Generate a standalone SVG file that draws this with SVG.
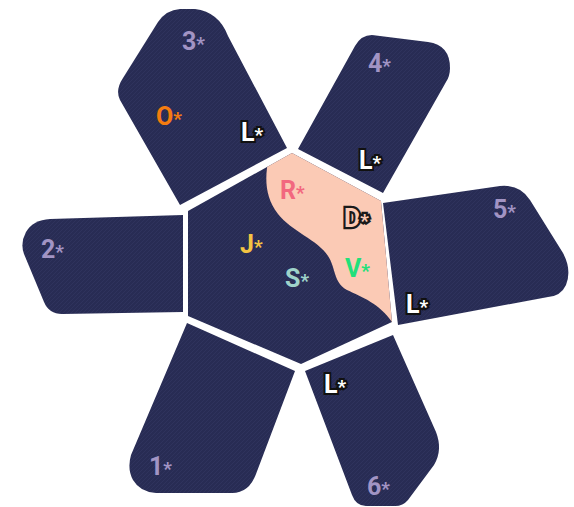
<svg xmlns="http://www.w3.org/2000/svg" width="574" height="507" viewBox="0 0 574 507">
  <defs>
    <!-- woven fabric look for the dark panels -->
    <pattern id="weave" width="4" height="4" patternUnits="userSpaceOnUse">
      <rect width="4" height="4" fill="#282c54"/>
      <path d="M0,4 L4,0 M-1,1 L1,-1 M3,5 L5,3" stroke="#30345e" stroke-width="0.9"/>
    </pattern>
    <clipPath id="hexClip">
      <polygon points="292,153 381,201 392,322 301,364 188,316 188,211"/>
    </clipPath>
  </defs>
  <style>
    .panel { fill: url(#weave); }
    .lbl { font-family: Roboto, "Liberation Sans", sans-serif; font-weight: 700; font-size: 25px; }
    .st { font-size: 19px; }
    .num { fill: #a294c4; }
    .tag { fill: #ffffff; stroke: #111111; stroke-width: 4; paint-order: stroke; stroke-linejoin: miter; }
    .tagp { fill: #fbcab5; stroke: #1a1a1a; stroke-width: 4.5; paint-order: stroke; stroke-linejoin: miter; }
  </style>
  <rect width="574" height="507" fill="#ffffff"/>

  <!-- central hexagon with peach zone -->
  <g id="hub">
    <polygon class="panel" points="292,153 381,201 392,322 301,364 188,316 188,211"/>
    <path clip-path="url(#hexClip)" fill="#fbcab5" d="M292,140 L400,200 L400,330 L392,322 C380,304 362,297 347,290 C333,282 336,268 328,256 C318,240 291,231 278,214 C267,200 265,184 267,168 L270,150 Z"/>
    <text class="lbl" x="280" y="199" fill="#f2687f">R<tspan class="st">*</tspan></text>
    <text class="lbl tagp" x="344" y="227">D<tspan class="st">*</tspan></text>
    <text class="lbl" x="240" y="253" fill="#f4c443">J<tspan class="st">*</tspan></text>
    <text class="lbl" x="345" y="277" fill="#22e07a">V<tspan class="st">*</tspan></text>
    <text class="lbl" x="285" y="287" fill="#9fd3ca">S<tspan class="st">*</tspan></text>
  </g>

  <g id="petal-1">
    <path class="panel" d="M187,323 L295,371 L256,474 Q249,493 232,493 L156,493 Q140,492 133,480 Q127,469 131,455 Z"/>
    <text class="lbl num" x="149" y="475">1<tspan class="st">*</tspan></text>
  </g>

  <g id="petal-2">
    <path class="panel" d="M183,215 L50,219 Q33,220 26,232 Q20,243 24,254 L44,302 Q49,314 62,314 L183,312 Z"/>
    <text class="lbl num" x="41" y="258">2<tspan class="st">*</tspan></text>
  </g>

  <g id="petal-3">
    <path class="panel" d="M287,148 L228,36 Q219,12 195,9 L180,9 Q166,10 158,22 L123,78 Q115,90 120,100 L180,205 Z"/>
    <text class="lbl num" x="182" y="50">3<tspan class="st">*</tspan></text>
    <text class="lbl" x="156" y="125" fill="#f47c10">O<tspan class="st">*</tspan></text>
    <text class="lbl tag" x="241" y="141">L<tspan class="st">*</tspan></text>
  </g>

  <g id="petal-4">
    <path class="panel" d="M298,149 L355,46 Q361,35 372,35 L428,42 Q450,45 450,68 Q450,76 446,82 L383,193 Z"/>
    <text class="lbl num" x="368" y="72">4<tspan class="st">*</tspan></text>
    <text class="lbl tag" x="359" y="169">L<tspan class="st">*</tspan></text>
  </g>

  <g id="petal-5">
    <path class="panel" d="M383,203 L500,186 Q520,184 530,200 L563,253 Q572,270 566,285 Q561,296 548,297 L398,325 Z"/>
    <text class="lbl num" x="493" y="218">5<tspan class="st">*</tspan></text>
    <text class="lbl tag" x="406" y="313">L<tspan class="st">*</tspan></text>
  </g>

  <g id="petal-6">
    <path class="panel" d="M305,371 L393,335 L436,432 Q443,450 434,465 L408,500 Q403,506 395,506 L366,506 Q356,506 352,495 Z"/>
    <text class="lbl tag" x="324" y="393">L<tspan class="st">*</tspan></text>
    <text class="lbl num" x="367" y="495">6<tspan class="st">*</tspan></text>
  </g>
</svg>
